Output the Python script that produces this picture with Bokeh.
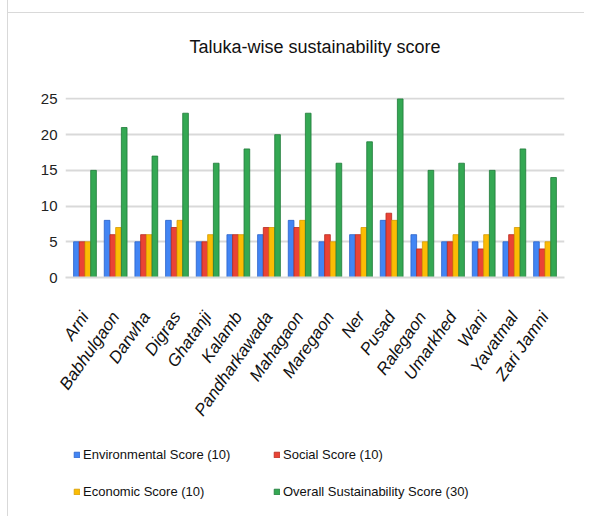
import math
from bokeh.plotting import figure
from bokeh.layouts import column
from bokeh.models import ColumnDataSource, FactorRange, Legend, LegendItem
from bokeh.transform import dodge
from bokeh.embed import file_html
from bokeh.resources import INLINE

talukas = ["Arni", "Babhulgaon", "Darwha", "Digras", "Ghatanji", "Kalamb",
           "Pandharkawada", "Mahagaon", "Maregaon", "Ner", "Pusad", "Ralegaon",
           "Umarkhed", "Wani", "Yavatmal", "Zari Jamni"]
environmental = [5, 8, 5, 8, 5, 6, 6, 8, 5, 6, 8, 6, 5, 5, 5, 5]
social = [5, 6, 6, 7, 5, 6, 7, 7, 6, 6, 9, 4, 5, 4, 6, 4]
economic = [5, 7, 6, 8, 6, 6, 7, 8, 5, 7, 8, 5, 6, 6, 7, 5]
overall = [15, 21, 17, 23, 16, 18, 20, 23, 16, 19, 25, 15, 16, 15, 18, 14]
series_names = ["Environmental Score (10)", "Social Score (10)",
                "Economic Score (10)", "Overall Sustainability Score (30)"]
y_ticks = [0, 5, 10, 15, 20, 25]

colors = ["#4285f4", "#ea4335", "#fbbc04", "#34a853"]
edges = ["#2a62c9", "#b8281d", "#d69a00", "#1e7a38"]

src = ColumnDataSource(dict(t=talukas, env=environmental, soc=social,
                            eco=economic, ovr=overall))

FONT = "Liberation Sans"

p = figure(x_range=FactorRange(*talukas, range_padding=0.135,
                               range_padding_units="absolute"),
           y_range=(0, 25.2), frame_width=499, frame_height=180,
           output_backend="svg", toolbar_location=None,
           min_border_left=57, min_border_top=107, min_border_right=20,
           min_border_bottom=150)
p.border_fill_color = None
p.background_fill_color = "white"

p.title.text = "Taluka-wise sustainability score"
p.title.text_font = FONT
p.title.text_font_size = "18px"
p.title.text_font_style = "normal"
p.title.text_color = "#111111"
p.title.align = "center"
p.title.standoff = 82

offsets = [-0.279, -0.093, 0.093, 0.279]
cols = ["env", "soc", "eco", "ovr"]
for off, col, c, e in zip(offsets, cols, colors, edges):
    p.vbar(x=dodge("t", off, range=p.x_range), top=col, width=0.185,
           source=src, fill_color=c, line_color=e, line_width=0.8)

p.outline_line_color = None
p.xgrid.grid_line_color = None
p.ygrid.grid_line_color = "#d9d9d9"
p.ygrid.grid_line_width = 2
p.yaxis.ticker = y_ticks
p.yaxis.axis_line_color = None
p.yaxis.major_tick_line_color = None
p.yaxis.minor_tick_line_color = None
p.yaxis.major_label_text_font = FONT
p.yaxis.major_label_text_font_size = "15px"
p.yaxis.major_label_text_color = "#222222"
p.yaxis.major_label_standoff = 2

p.xaxis.axis_line_color = "#d9d9d9"
p.xaxis.axis_line_width = 2
p.xaxis.major_tick_line_color = None
p.xaxis.minor_tick_line_color = None
p.xaxis.major_label_orientation = 55 * math.pi / 180
p.xaxis.major_label_text_font = FONT
p.xaxis.major_label_text_font_style = "italic"
p.xaxis.major_label_text_font_size = "17px"
p.xaxis.major_label_text_color = "#111111"
p.xaxis.major_label_standoff = 30

# legend panel (separate figure below the chart); proxy glyphs lie outside its range
p2 = figure(width=576, height=89, x_range=(0, 1), y_range=(0, 1),
            output_backend="svg", toolbar_location=None, min_border=0)
p2.axis.visible = False
p2.grid.grid_line_color = None
p2.outline_line_color = None
p2.border_fill_color = None
p2.background_fill_color = None
legend_renderers = []
for c, e in zip(colors, edges):
    legend_renderers.append(p2.vbar(x=[-5], top=[-5], bottom=[-6], width=0.1,
                                    fill_color=c, line_color=e, line_width=0.8))

items = [LegendItem(label=n, renderers=[r]) for n, r in zip(series_names, legend_renderers)]
# column-major filling: put Environmental/Economic in column 1, Social/Overall in column 2
ordered = [items[0], items[2], items[1], items[3]]

legend = Legend(items=ordered,
                ncols=2, location=(8, 16),
                glyph_width=7, glyph_height=7, label_standoff=3,
                label_height=20, label_width=173, spacing=17,
                padding=0, margin=0, border_line_color=None,
                background_fill_alpha=0,
                label_text_font=FONT, label_text_font_size="13px",
                label_text_color="#111111")
p2.add_layout(legend, "center")

layout = column(p, p2, spacing=0)
layout.styles = {"border-left": "1px solid #d9d9d9",
                 "margin-top": "-10px", "margin-left": "7px",
                 "background": "linear-gradient(#d9d9d9, #d9d9d9) 0 22px / 100% 1px no-repeat, white"}

open("out.html", "w").write(file_html(layout, INLINE))
